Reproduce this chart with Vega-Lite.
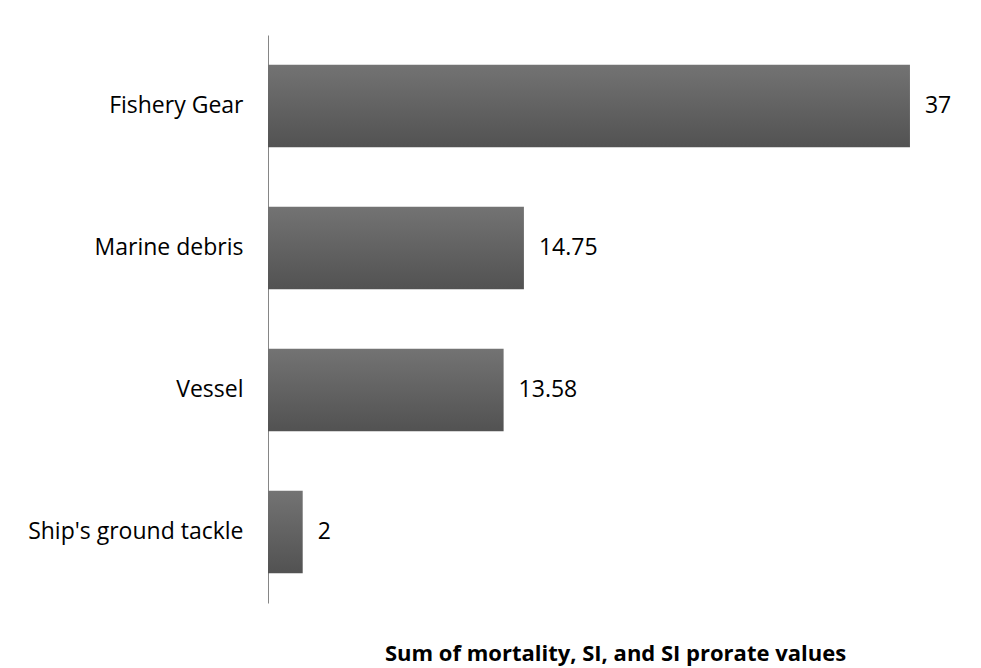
{
  "$schema": "https://vega.github.io/schema/vega-lite/v6.json",
  "width": 694,
  "height": 568,
  "autosize": "none",
  "padding": {"left": 268, "top": 35, "right": 19, "bottom": 65},
  "background": "white",
  "config": {"view": {"stroke": null}, "font": "Open Sans"},
  "data": {"values": [
    {"cause": "Fishery Gear", "value": 37},
    {"cause": "Marine debris", "value": 14.75},
    {"cause": "Vessel", "value": 13.58},
    {"cause": "Ship's ground tackle", "value": 2}
  ]},
  "encoding": {
    "y": {
      "field": "cause", "type": "nominal", "sort": null,
      "scale": {"paddingInner": 0.42, "paddingOuter": 0.21},
      "axis": {
        "title": null, "ticks": false, "labelPadding": 25,
        "labelFontSize": 23, "labelColor": "#000000", "labelFont": "Open Sans",
        "domainColor": "#868686", "domainWidth": 1, "labelLimit": 400
      }
    },
    "x": {
      "field": "value", "type": "quantitative",
      "scale": {"domain": [0, 40], "nice": false},
      "axis": {
        "title": "Sum of mortality, SI, and SI prorate values",
        "labels": false, "ticks": false, "domain": false, "grid": false,
        "titleFontSize": 22, "titleFontWeight": "bold", "titleColor": "#000000",
        "titleFont": "Open Sans", "titlePadding": 40
      }
    }
  },
  "layer": [
    {
      "mark": {
        "type": "bar",
        "color": {
          "gradient": "linear", "x1": 0, "y1": 0, "x2": 0, "y2": 1,
          "stops": [{"offset": 0, "color": "#737373"}, {"offset": 1, "color": "#525252"}]
        }
      }
    },
    {
      "mark": {"type": "text", "align": "left", "baseline": "middle", "dx": 15, "fontSize": 23, "color": "#000000"},
      "encoding": {"text": {"field": "value", "type": "quantitative"}}
    }
  ]
}
